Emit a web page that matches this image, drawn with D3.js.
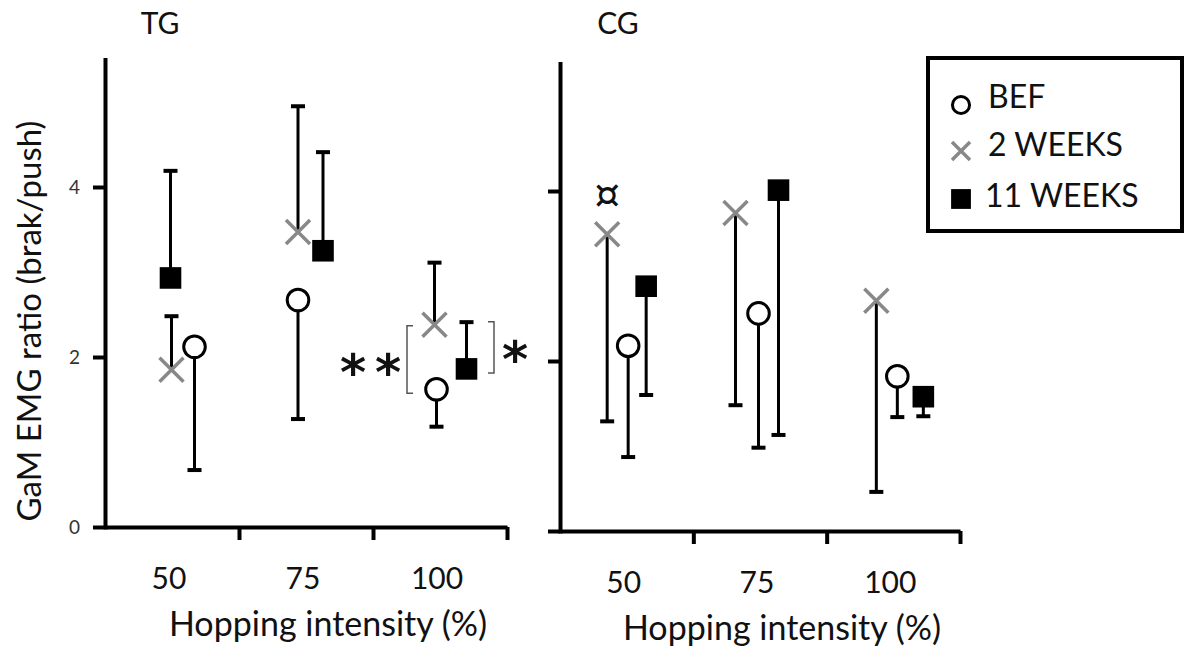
<!DOCTYPE html>
<html>
<head>
<meta charset="utf-8">
<script src="https://cdn.jsdelivr.net/npm/d3@7"></script>
<style>
body { margin: 0; background: #fff; }
svg { display: block; font-family: Lato, "Open Sans", sans-serif; }
</style>
</head>
<body>
<script>

// categories and values (mean, and SD shown as one-sided bar)
var intensities = ["50", "75", "100"];
var seriesNames = ["BEF", "2 WEEKS", "11 WEEKS"];
var yTicks = [0, 2, 4];

var tgBefMean = [2.12, 2.67, 1.62];
var tgBefSd   = [1.45, 1.40, 0.44];
var tg2wMean  = [1.85, 3.47, 2.38];
var tg2wSd    = [0.63, 1.48, 0.73];
var tg11wMean = [2.93, 3.25, 1.86];
var tg11wSd   = [1.26, 1.16, 0.55];

var cgBefMean = [2.18, 2.56, 1.82];
var cgBefSd   = [1.31, 1.58, 0.48];
var cg2wMean  = [3.49, 3.74, 2.71];
var cg2wSd    = [2.20, 2.26, 2.25];
var cg11wMean = [2.88, 4.01, 1.58];
var cg11wSd   = [1.28, 2.88, 0.23];

var width = 1186;
var height = 655;
var pxPerUnit = 85;
var yMax = 5.5;

var svg = d3.select("body").append("svg")
    .attr("width", width)
    .attr("height", height);

// horizontal dodge of each series inside its category (px), per panel
var panels = [
    {
        title: "TG", titleX: 160, left: 105, right: 507, bottom: 527, labels: true,
        series: [
            {mean: tgBefMean, sd: tgBefSd, dir: -1, dodge: [22.5, -8, -3.5]},
            {mean: tg2wMean, sd: tg2wSd, dir: 1, dodge: [-0.5, -8, -5.5]},
            {mean: tg11wMean, sd: tg11wSd, dir: 1, dodge: [-1.5, 17, 26.5]}
        ]
    },
    {
        title: "CG", titleX: 618, left: 560, right: 960, bottom: 531, labels: false,
        series: [
            {mean: cgBefMean, sd: cgBefSd, dir: -1, dodge: [1.5, -1.5, 4]},
            {mean: cg2wMean, sd: cg2wSd, dir: -1, dodge: [-19.5, -24.5, -17]},
            {mean: cg11wMean, sd: cg11wSd, dir: -1, dodge: [19.5, 18.5, 30]}
        ]
    }
];

function drawMarker(g, type, cx, cy, size) {
    if (type == 0) {
        g.append("circle")
            .attr("cx", cx).attr("cy", cy).attr("r", size * 0.45)
            .attr("fill", "#fff").attr("stroke", "#000").attr("stroke-width", 3);
    } else if (type == 1) {
        var h = size / 2;
        g.append("path")
            .attr("d", `M${cx - h},${cy - h}L${cx + h},${cy + h}M${cx - h},${cy + h}L${cx + h},${cy - h}`)
            .attr("stroke", "#888").attr("stroke-width", 3.5).attr("fill", "none");
    } else {
        g.append("rect")
            .attr("x", cx - size * 0.45).attr("y", cy - size * 0.45)
            .attr("width", size * 0.9).attr("height", size * 0.9)
            .attr("fill", "#000");
    }
}

panels.forEach(function(p) {
    var g = svg.append("g");

    var y = d3.scaleLinear()
        .domain([0, yMax])
        .range([p.bottom, p.bottom - yMax * pxPerUnit]);

    var x = d3.scaleBand()
        .domain(intensities)
        .range([p.left, p.right]);

    var xEdge = d3.scaleLinear().domain([0, 3]).range([p.left, p.right]);

    // y axis
    var yAxis = d3.axisLeft(y)
        .tickValues(yTicks)
        .tickSize(12)
        .tickSizeOuter(0)
        .tickPadding(13)
        .tickFormat(p.labels ? d3.format("d") : "");
    var ya = g.append("g")
        .attr("transform", `translate(${p.left},0)`)
        .call(yAxis);
    ya.select(".domain").attr("stroke-width", 4).attr("stroke-linecap", "square");
    ya.selectAll(".tick line").attr("stroke-width", 4);
    ya.selectAll(".tick text")
        .attr("font-family", "Lato").attr("font-size", 19).attr("fill", "#333");

    // x axis: ticks at category edges
    var xAxis = d3.axisBottom(xEdge)
        .tickValues([1, 2, 3])
        .tickSize(13)
        .tickSizeOuter(0)
        .tickFormat("");
    var xa = g.append("g")
        .attr("transform", `translate(0,${p.bottom})`)
        .call(xAxis);
    xa.select(".domain").attr("stroke-width", 4);
    xa.selectAll(".tick line").attr("stroke-width", 4);

    g.selectAll(".cat")
        .data(intensities)
        .enter()
        .append("text")
            .attr("x", function(d) { return x(d) + x.bandwidth() / 2 - 3; })
            .attr("y", p.bottom + 50)
            .attr("dominant-baseline", "central")
            .attr("text-anchor", "middle")
            .attr("font-size", 30)
            .attr("fill", "#111")
            .text(function(d) { return d; });

    g.append("text")
        .attr("x", (p.left + p.right) / 2 + 22)
        .attr("y", p.bottom + 95)
        .attr("dominant-baseline", "central")
        .attr("text-anchor", "middle")
        .attr("font-size", 34)
        .attr("fill", "#111")
        .text("Hopping intensity (%)");

    g.append("text")
        .attr("x", p.titleX)
        .attr("y", 22)
        .attr("dominant-baseline", "central")
        .attr("text-anchor", "middle")
        .attr("font-size", 30)
        .attr("fill", "#111")
        .text(p.title);

    // error bars first, markers on top
    p.series.forEach(function(s, si) {
        intensities.forEach(function(c, ci) {
            var cx = x(c) + x.bandwidth() / 2 + s.dodge[ci];
            var y0 = y(s.mean[ci]);
            var y1 = y(s.mean[ci] + s.dir * s.sd[ci]);
            g.append("line")
                .attr("x1", cx).attr("x2", cx).attr("y1", y0).attr("y2", y1)
                .attr("stroke", "#000").attr("stroke-width", 3);
            g.append("line")
                .attr("x1", cx - 7).attr("x2", cx + 7).attr("y1", y1).attr("y2", y1)
                .attr("stroke", "#000").attr("stroke-width", 4);
        });
    });
    p.series.forEach(function(s, si) {
        intensities.forEach(function(c, ci) {
            var cx = x(c) + x.bandwidth() / 2 + s.dodge[ci];
            drawMarker(g, si, cx, y(s.mean[ci]), 24);
        });
    });

    p.x = x;
    p.y = y;
});

// y title
svg.append("text")
    .attr("transform", "translate(28,321) rotate(-90)")
    .attr("dominant-baseline", "central")
    .attr("text-anchor", "middle")
    .attr("font-size", 33)
    .attr("fill", "#111")
    .text("GaM EMG ratio (brak/push)");

// significance marks, TG at 100 %
var tg = panels[0];
var c100 = tg.x("100") + tg.x.bandwidth() / 2;
var yTop = tg.y(tg2wMean[2]);
var yBef = tg.y(tgBefMean[2]);
var y11 = tg.y(tg11wMean[2]);

svg.append("path")
    .attr("d", `M${c100 - 27},${yTop + 1}H${c100 - 33}V${yBef + 4}H${c100 - 27}`)
    .attr("fill", "none").attr("stroke", "#555").attr("stroke-width", 1.5);
svg.append("path")
    .attr("d", `M${c100 + 48},${yTop - 3}H${c100 + 54}V${y11 + 4}H${c100 + 48}`)
    .attr("fill", "none").attr("stroke", "#555").attr("stroke-width", 1.5);

var starFont = "DejaVu Sans";
[-87, -52].forEach(function(dx) {
    svg.append("text")
        .attr("x", c100 + dx)
        .attr("y", (yTop + yBef) / 2 + 33)
        .attr("text-anchor", "middle")
        .attr("font-family", starFont)
        .attr("font-weight", "bold")
        .attr("font-size", 50)
        .attr("fill", "#111")
        .text("*");
});
svg.append("text")
    .attr("x", c100 + 75)
    .attr("y", (yTop + y11) / 2 + 30)
    .attr("text-anchor", "middle")
    .attr("font-family", starFont)
    .attr("font-weight", "bold")
    .attr("font-size", 50)
    .attr("fill", "#111")
    .text("*");

// ¤ over CG 2 WEEKS at 50 %
var cg = panels[1];
svg.append("text")
    .attr("x", cg.x("50") + cg.x.bandwidth() / 2 + cg.series[1].dodge[0])
    .attr("y", cg.y(cg2wMean[0]) - 26)
    .attr("text-anchor", "middle")
    .attr("font-family", "DejaVu Sans")
    .attr("font-size", 40)
    .attr("fill", "#111")
    .text("¤");

// legend
var legend = svg.append("g");
legend.append("rect")
    .attr("x", 928).attr("y", 58)
    .attr("width", 254).attr("height", 173)
    .attr("fill", "#fff").attr("stroke", "#000").attr("stroke-width", 4);

var legendRows = [105, 151, 199];
var legendBase = [108, 156, 207];
seriesNames.forEach(function(name, i) {
    drawMarker(legend, i, 961, legendRows[i], i == 0 ? 19 : (i == 1 ? 18 : 22));
    legend.append("text")
        .attr("x", i == 2 ? 985 : 988)
        .attr("y", legendBase[i])
        .attr("font-size", 32)
        .attr("fill", "#111")
        .text(name);
});

</script>
</body>
</html>
